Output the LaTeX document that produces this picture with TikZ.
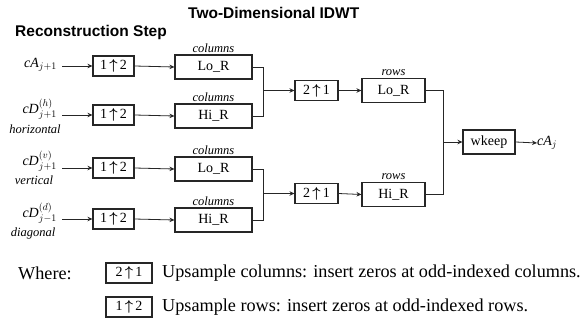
\documentclass[tikz,border=0pt]{standalone}
\usepackage{amsmath}
\usepackage{fontspec}
\setmainfont{Liberation Serif}
\newfontfamily\hsans{Liberation Sans}
\usetikzlibrary{arrows.meta}
\newcommand\myup{\,$\boldsymbol{\uparrow}$\,}
\begin{document}
\begin{tikzpicture}[x=1pt,y=-1pt,
  box/.style={draw=black!85,line width=1.1pt,inner sep=0pt,font=\fontsize{14}{16}\selectfont},
  upbox/.style={box,minimum width=41pt,minimum height=20pt},
  colbox/.style={box,minimum width=77pt,minimum height=24pt},
  rowbox/.style={box,minimum width=63pt,minimum height=24pt},
  legbox/.style={box,minimum width=46pt,minimum height=20pt},
  ln/.style={line width=0.8pt,draw=black!85},
  arr/.style={ln,-{Stealth[length=5pt,width=4.5pt]}},
  lab/.style={font=\fontsize{14}{16}\selectfont,inner sep=0pt},
  sml/.style={font=\fontsize{12.5}{14}\selectfont\itshape,inner sep=0pt},
  ttl/.style={font=\fontsize{15.5}{18}\selectfont\hsans\bfseries,inner sep=0pt},
  leg/.style={font=\fontsize{18.2}{21}\selectfont,inner sep=0pt}]
\useasboundingbox (0,0) rectangle (584,329);
\fill[white] (0,0) rectangle (584,329);

% titles
\node[ttl,anchor=west] (title) at (188,13) {Two-Dimensional IDWT};
\node[ttl,anchor=west] (step) at (15,32) {Reconstruction Step};

% input labels
\node[lab,anchor=east] (l1) at (57,65) {$\mathit{cA}_{j+1}$};
\node[lab,anchor=east] (l2) at (57,109) {$\mathit{cD}^{(h)}_{j+1}$};
\node[sml] (w2) at (35,129.5) {horizontal};
\node[lab,anchor=east] (l3) at (57,161) {$\mathit{cD}^{(v)}_{j+1}$};
\node[sml] (w3) at (34,180) {vertical};
\node[lab,anchor=east] (l4) at (57,213) {$\mathit{cD}^{(d)}_{j-1}$};
\node[sml] (w4) at (33,233.5) {diagonal};

\coordinate (s1) at (62,66);
\coordinate (s2) at (62,115);
\coordinate (s3) at (62,168);
\coordinate (s4) at (62,219);

% upsample rows
\node[upbox] (u1) at (113.5,66) {1\myup2};
\node[upbox] (u2) at (113.5,115) {1\myup2};
\node[upbox] (u3) at (113.5,168) {1\myup2};
\node[upbox] (u4) at (113.5,219) {1\myup2};

% column filters
\node[colbox] (f1) at (213.5,67) {Lo\_R};
\node[colbox] (f2) at (213.5,116) {Hi\_R};
\node[colbox] (f3) at (213.5,169) {Lo\_R};
\node[colbox] (f4) at (213.5,220) {Hi\_R};
\foreach \n in {f1,f2,f3,f4}
  \node[sml,anchor=south] (c\n) at ([yshift=2pt]\n.north) {columns};

\foreach \i in {1,2,3,4}{
  \draw[arr] (s\i) -- (u\i.west);
  \draw[arr] (u\i.east) -- (f\i.west);
}

% junctions
\coordinate (j1) at (263,90.5);
\coordinate (j2) at (263,193.5);
\draw[ln] (f1.east) -| (j1);
\draw[ln] (f2.east) -| (j1);
\draw[ln] (f3.east) -| (j2);
\draw[ln] (f4.east) -| (j2);

% upsample columns
\node[upbox,minimum width=43pt] (d1) at (316.5,90.5) {2\myup1};
\node[upbox,minimum width=43pt] (d2) at (316.5,193.5) {2\myup1};
\draw[arr] (j1) -- (d1.west);
\draw[arr] (j2) -- (d2.west);

% row filters
\node[rowbox] (g1) at (393.5,90.5) {Lo\_R};
\node[rowbox] (g2) at (393.5,194.5) {Hi\_R};
\node[sml,anchor=south] (r1) at ([yshift=2pt]g1.north) {rows};
\node[sml,anchor=south] (r2) at ([yshift=2pt]g2.north) {rows};
\draw[arr] (d1.east) -- (g1.west);
\draw[arr] (d2.east) -- (g2.west);

\coordinate (j3) at (443,142);
\draw[ln] (g1.east) -| (j3);
\draw[ln] (g2.east) -| (j3);

\node[box,minimum width=52pt,minimum height=24pt] (wk) at (489,142) {wkeep};
\draw[arr] (j3) -- (wk.west);
\node[lab,anchor=west] (out) at (537,143) {$\mathit{cA}_{j}$};
\draw[arr] (wk.east) -- (out.west);

% legend
\node[leg,anchor=west] (where) at (18,273) {Where:};
\node[legbox] (k1) at (129,273) {2\myup1};
\node[legbox] (k2) at (129,307) {1\myup2};
\node[leg,anchor=west] (t1) at (162,273) {Upsample columns: insert zeros at odd-indexed columns.};
\node[leg,anchor=west] (t2) at (162,307) {Upsample rows: insert zeros at odd-indexed rows.};
\end{tikzpicture}
\end{document}
